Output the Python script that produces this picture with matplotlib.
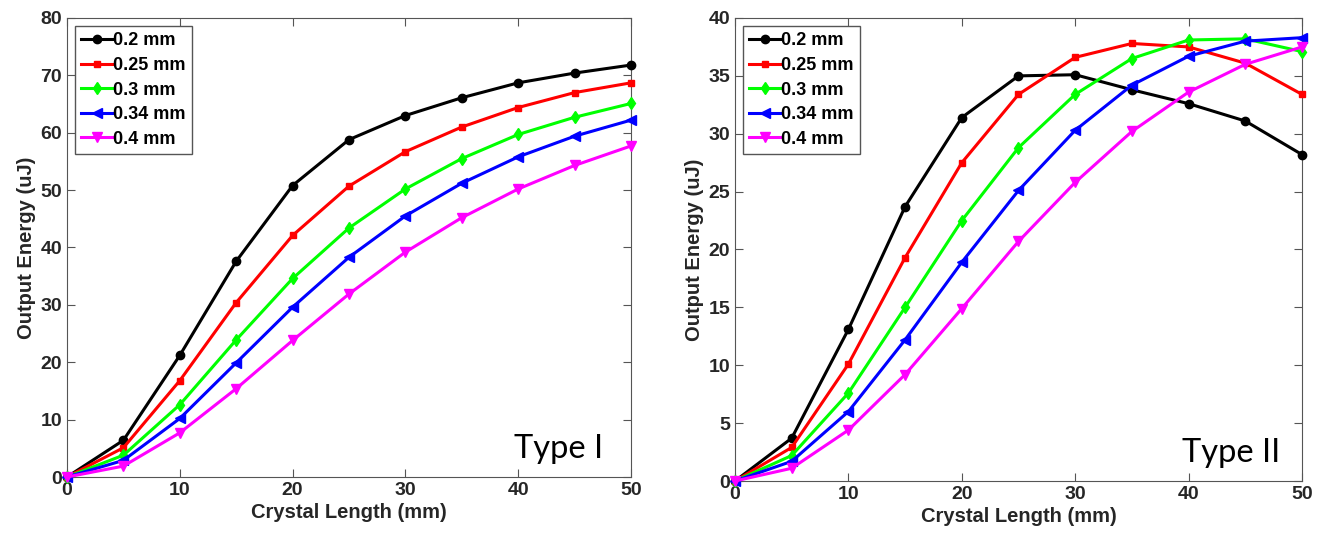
import matplotlib
matplotlib.use('Agg')
import matplotlib.pyplot as plt
import numpy as np

plt.rcParams['font.family'] = ['Liberation Sans', 'DejaVu Sans']

length = [0, 5, 10, 15, 20, 25, 30, 35, 40, 45, 50]
labels = ['0.2 mm', '0.25 mm', '0.3 mm', '0.34 mm', '0.4 mm']
colors = ['#000000', '#ff0000', '#00ff00', '#0000ff', '#ff00ff']
markers = ['o', 's', 'd', '<', 'v']
msizes = [6, 5, 6, 6.5, 6.5]

# Type I
type1_02 = [0, 6.4, 21.2, 37.6, 50.8, 58.8, 63.0, 66.1, 68.7, 70.4, 71.8]
type1_025 = [0, 5.1, 16.8, 30.4, 42.1, 50.7, 56.7, 61.0, 64.4, 67.0, 68.7]
type1_03 = [0, 3.8, 12.6, 23.9, 34.6, 43.4, 50.2, 55.5, 59.7, 62.7, 65.1]
type1_034 = [0, 2.9, 10.2, 19.9, 29.6, 38.3, 45.5, 51.2, 55.8, 59.4, 62.2]
type1_04 = [0, 1.9, 7.7, 15.4, 23.8, 31.9, 39.2, 45.2, 50.2, 54.3, 57.7]

# Type II
type2_02 = [0, 3.7, 13.1, 23.7, 31.4, 35.0, 35.1, 33.8, 32.6, 31.1, 28.2]
type2_025 = [0, 2.9, 10.1, 19.3, 27.5, 33.4, 36.6, 37.8, 37.5, 36.1, 33.4]
type2_03 = [0, 2.2, 7.6, 15.0, 22.5, 28.8, 33.4, 36.5, 38.1, 38.2, 37.1]
type2_034 = [0, 1.7, 6.0, 12.2, 18.9, 25.1, 30.3, 34.2, 36.7, 38.0, 38.3]
type2_04 = [0, 1.1, 4.4, 9.2, 14.9, 20.7, 25.8, 30.2, 33.6, 36.0, 37.5]

type1 = [type1_02, type1_025, type1_03, type1_034, type1_04]
type2 = [type2_02, type2_025, type2_03, type2_034, type2_04]

fig = plt.figure(figsize=(13.27, 5.48), dpi=100)
ax1 = fig.add_axes([67/1327, 71/548, 564/1327, 459/548])
ax2 = fig.add_axes([735/1327, 67/548, 567/1327, 463/548])


def panel(ax, data, ymax, ystep, name, tx, ty):
    for y, lab, c, m, ms in zip(data, labels, colors, markers, msizes):
        ax.plot(length, y, color=c, marker=m, markersize=ms, linewidth=2.2,
                label=lab, clip_on=False, zorder=3)
    ax.set_xlim(0, 50)
    ax.set_ylim(0, ymax)
    ax.set_xticks(np.arange(0, 51, 10))
    ax.set_yticks(np.arange(0, ymax + 1, ystep))
    ax.tick_params(direction='in', top=True, right=True, labelsize=14, length=6,
                   color='#555555', labelcolor='#262626')
    for lbl in ax.get_xticklabels() + ax.get_yticklabels():
        lbl.set_fontweight('bold')
    for s in ax.spines.values():
        s.set_color('#555555')
    ax.set_xlabel('Crystal Length (mm)', fontsize=14.5, fontweight='bold',
                  color='#262626', labelpad=3)
    ax.set_ylabel('Output Energy (uJ)', fontsize=14.5, fontweight='bold',
                  color='#262626', labelpad=3)
    leg = ax.legend(loc='upper left', prop={'weight': 'bold', 'size': 13},
                    fancybox=False, edgecolor='#555555', handlelength=1.7,
                    handletextpad=0.05, borderpad=0.35, labelspacing=0.42,
                    borderaxespad=0.45, framealpha=1)
    leg.get_frame().set_linewidth(1.0)
    ax.text(tx, ty, name, transform=ax.transAxes, ha='right', va='baseline',
            fontsize=23.5, family=['Lato', 'DejaVu Sans'])


panel(ax1, type1, 80, 10, 'Type I', 0.95, 0.042)
panel(ax2, type2, 40, 5, 'Type II', 0.962, 0.04)

plt.savefig('out.png', dpi=100)
